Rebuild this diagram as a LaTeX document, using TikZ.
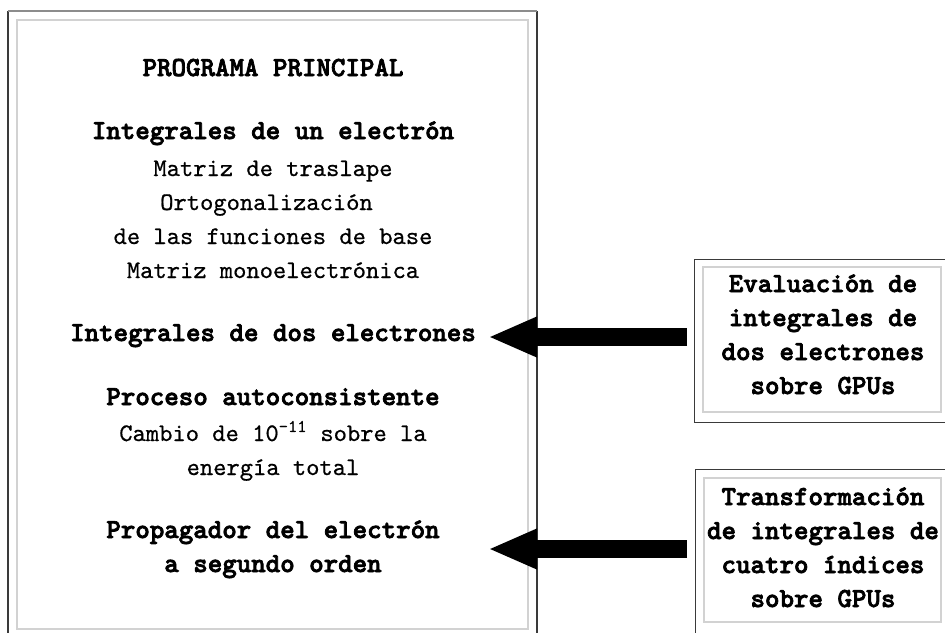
\documentclass[tikz,border=0pt]{standalone}
\usepackage{fontspec}
\setmonofont{lmmono10-regular}[Extension=.otf, UprightFeatures={FakeBold=0.6}, BoldFont=lmmonolt10-bold, BoldFeatures={FakeBold=2.6}]
\usetikzlibrary{arrows.meta}
\definecolor{frameDark}{HTML}{3A3A3A}
\definecolor{frameTop}{HTML}{8C8C8C}
\definecolor{frameLight}{HTML}{D2D2D2}
\tikzset{
  reg/.style={font=\ttfamily\fontsize{25.3}{34}\selectfont, anchor=base, inner sep=0pt},
  bld/.style={font=\ttfamily\bfseries\fontsize{27.6}{34}\selectfont, anchor=base, inner sep=0pt},
  outerframe/.style={draw=frameDark, line width=1.2pt},
  innerframe/.style={draw=frameLight, line width=1.5pt},
  blockarrow/.style={line width=18pt, draw=black, -{Triangle[length=49pt,width=37pt,fill=black]}}
}
\begin{document}
\begin{tikzpicture}[x=1pt,y=-1pt]
\useasboundingbox (0,0) rectangle (945,632);
\fill[white] (0,0) rectangle (945,632);
% left frame
\draw[outerframe] (8,11) -- (8,650);
\draw[outerframe] (537,11) -- (537,650);
\draw[draw=frameTop, line width=1.5pt] (8,11) -- (537,11);
\draw[innerframe] (17,20) rectangle (528,629);
% left texts
\node[bld] (title) at (273,76) {PROGRAMA PRINCIPAL};
\node[bld] (tuno) at (273,139) {Integrales de un electrón};
\node[reg] (tmat) at (273,176) {Matriz de traslape};
\node[reg] (tort) at (266.5,210) {Ortogonalización};
\node[reg] (tfun) at (273,244) {de las funciones de base};
\node[reg] (tmono) at (273,278) {Matriz monoelectrónica};
\node[bld] (tdos) at (273,341) {Integrales de dos electrones};
\node[bld] (tproc) at (273,405) {Proceso autoconsistente};
\node[reg] (tcamb) at (273,441) {Cambio de 10\textsuperscript{-11} sobre la};
\node[reg] (tener) at (273,475) {energía total};
\node[bld] (tprop) at (273,538) {Propagador del electrón};
\node[bld] (tseg) at (273,572) {a segundo orden};
% right box 1
\node[outerframe, anchor=north west, minimum width=260pt, minimum height=163pt, inner sep=0pt] (box1) at (694,259) {};
\draw[innerframe] (703,267) rectangle (941,412);
\node[bld] (e1) at (823,292) {Evaluación de};
\node[bld] (e2) at (823,326) {integrales de};
\node[bld] (e3) at (823,360) {dos electrones};
\node[bld] (e4) at (823,394) {sobre GPUs};
% right box 2
\node[outerframe, anchor=north west, minimum width=260pt, minimum height=190pt, inner sep=0pt] (box2) at (695,469) {};
\draw[innerframe] (704,478) rectangle (941,622);
\node[bld] (f1) at (823,505) {Transformación};
\node[bld] (f2) at (823,539) {de integrales de};
\node[bld] (f3) at (823,573) {cuatro índices};
\node[bld] (f4) at (823,607) {sobre GPUs};
% arrows
\coordinate (a1s) at (687,337);
\coordinate (a1e) at (488,337);
\coordinate (a2s) at (687,549);
\coordinate (a2e) at (488,549);
\draw[blockarrow] (a1s) -- (a1e);
\draw[blockarrow] (a2s) -- (a2e);
\end{tikzpicture}
\end{document}
